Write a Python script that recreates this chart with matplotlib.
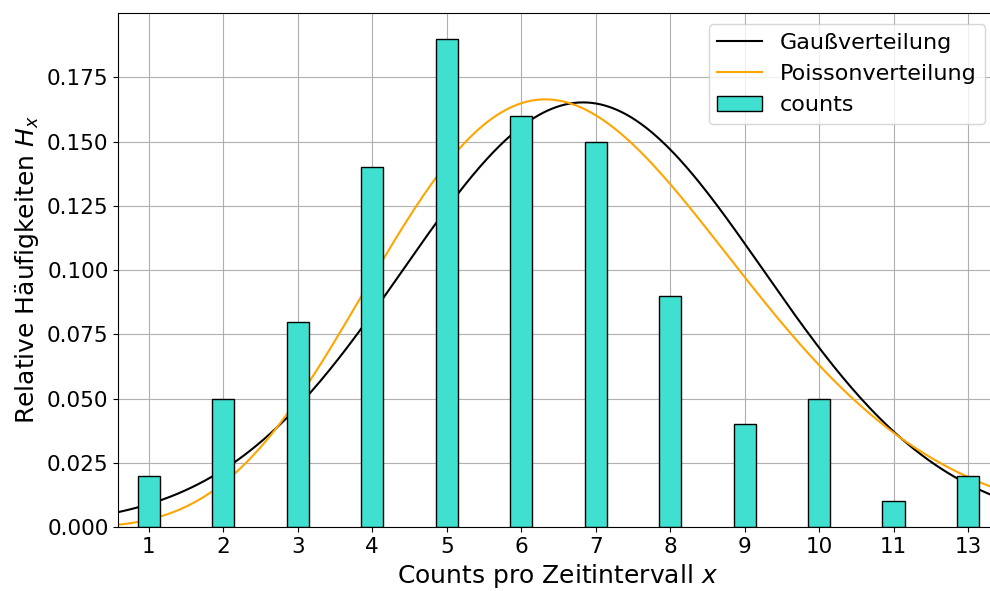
import math
import numpy as np
import matplotlib
matplotlib.use("Agg")
import matplotlib.pyplot as plt

# data
labels = ["1", "2", "3", "4", "5", "6", "7", "8", "9", "10", "11", "13"]
freq = [0.02, 0.05, 0.08, 0.14, 0.19, 0.16, 0.15, 0.09, 0.04, 0.05, 0.01, 0.02]
lam = 5.83  # mean of the counts

pos = np.arange(1, len(labels) + 1)

x = np.linspace(0.59, 12.38, 400)
k = x - 1
gauss = np.exp(-(k - lam) ** 2 / (2 * lam)) / np.sqrt(2 * np.pi * lam)
lg = np.array([math.lgamma(v + 1) for v in k])
poisson = np.exp(k * np.log(lam) - lam - lg)

fig = plt.figure(figsize=(9.9, 5.91), dpi=100)
ax = fig.add_axes([0.1195, 0.108, 0.887, 0.870])

ax.plot(x, gauss, color="black", lw=1.5, label="Gaußverteilung")
ax.plot(x, poisson, color="orange", lw=1.5, label="Poissonverteilung")
ax.bar(pos, freq, width=0.3, color="turquoise", edgecolor="black", label="counts", zorder=2)

ax.set_xlim(0.59, 12.38)
ax.set_ylim(0, 0.2)
ax.set_xticks(pos)
ax.set_xticklabels(labels)
ax.set_yticks(np.arange(0, 0.176, 0.025))
ax.tick_params(labelsize=15.5)
ax.grid(True)
ax.set_axisbelow(True)

ax.set_xlabel("Counts pro Zeitintervall $x$", fontsize=18)
ax.set_ylabel("Relative Häufigkeiten $H_x$", fontsize=18)
ax.legend(loc="upper right", fontsize=16)

fig.savefig("out.png")
